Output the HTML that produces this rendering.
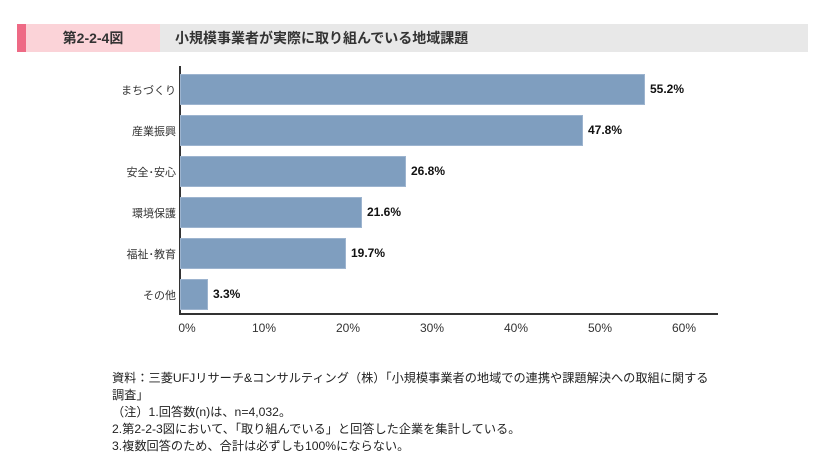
<!DOCTYPE html>
<html><head><meta charset="utf-8"><style>
body{margin:0;width:831px;height:472px;background:#fff;position:relative;overflow:hidden;font-family:"Liberation Sans","Noto Sans CJK JP",sans-serif;color:#222}
.a{position:absolute}
.bar{position:absolute;left:180px;height:31px;background:#7f9ebf;box-sizing:border-box;border:1px solid #9db4cf}
.lab{position:absolute;right:655px;font-size:11px;color:#333;text-align:right;white-space:nowrap}
.val{position:absolute;font-size:12px;font-weight:bold;color:#111}
.tk{position:absolute;top:321px;font-size:12px;color:#333;width:40px;text-align:center}
.n{position:absolute;left:112px;font-size:12.2px;color:#222;white-space:nowrap}
</style></head><body>
<div class="a" style="left:17px;top:24px;width:9px;height:28px;background:#ee6a85"></div>
<div class="a" style="left:26px;top:24px;width:134px;height:28px;background:#fbd3d8;font-size:14px;font-weight:bold;color:#333;line-height:28px;text-align:center">第2-2-4図</div>
<div class="a" style="left:160px;top:24px;width:648px;height:28px;background:#e8e8e8;font-size:14px;font-weight:bold;color:#333;line-height:28px;padding-left:15px;box-sizing:border-box">小規模事業者が実際に取り組んでいる地域課題</div>

<div class="a" style="left:179px;top:66px;width:2px;height:249px;background:#333"></div>
<div class="a" style="left:179px;top:313px;width:539px;height:2px;background:#333"></div>

<div class="bar" style="top:74px;width:465px"></div><div class="val" style="left:650px;top:82px">55.2%</div><div class="lab" style="top:82px">まちづくり</div>
<div class="bar" style="top:115px;width:403px"></div><div class="val" style="left:588px;top:123px">47.8%</div><div class="lab" style="top:123px">産業振興</div>
<div class="bar" style="top:156px;width:226px"></div><div class="val" style="left:411px;top:164px">26.8%</div><div class="lab" style="top:164px">安全･安心</div>
<div class="bar" style="top:197px;width:182px"></div><div class="val" style="left:367px;top:205px">21.6%</div><div class="lab" style="top:205px">環境保護</div>
<div class="bar" style="top:238px;width:166px"></div><div class="val" style="left:351px;top:246px">19.7%</div><div class="lab" style="top:246px">福祉･教育</div>
<div class="bar" style="top:279px;width:28px"></div><div class="val" style="left:213px;top:287px">3.3%</div><div class="lab" style="top:287px">その他</div>

<div class="tk" style="left:167px">0%</div>
<div class="tk" style="left:244px">10%</div>
<div class="tk" style="left:328px">20%</div>
<div class="tk" style="left:412px">30%</div>
<div class="tk" style="left:496px">40%</div>
<div class="tk" style="left:580px">50%</div>
<div class="tk" style="left:664px">60%</div>

<div class="n" style="top:368px">資料：三菱UFJリサーチ&amp;コンサルティング（株）「小規模事業者の地域での連携や課題解決への取組に関する</div>
<div class="n" style="top:385px">調査」</div>
<div class="n" style="top:402px">（注）1.回答数(n)は、n=4,032。</div>
<div class="n" style="top:419px">2.第2-2-3図において、「取り組んでいる」と回答した企業を集計している。</div>
<div class="n" style="top:436px">3.複数回答のため、合計は必ずしも100%にならない。</div>
</body></html>
